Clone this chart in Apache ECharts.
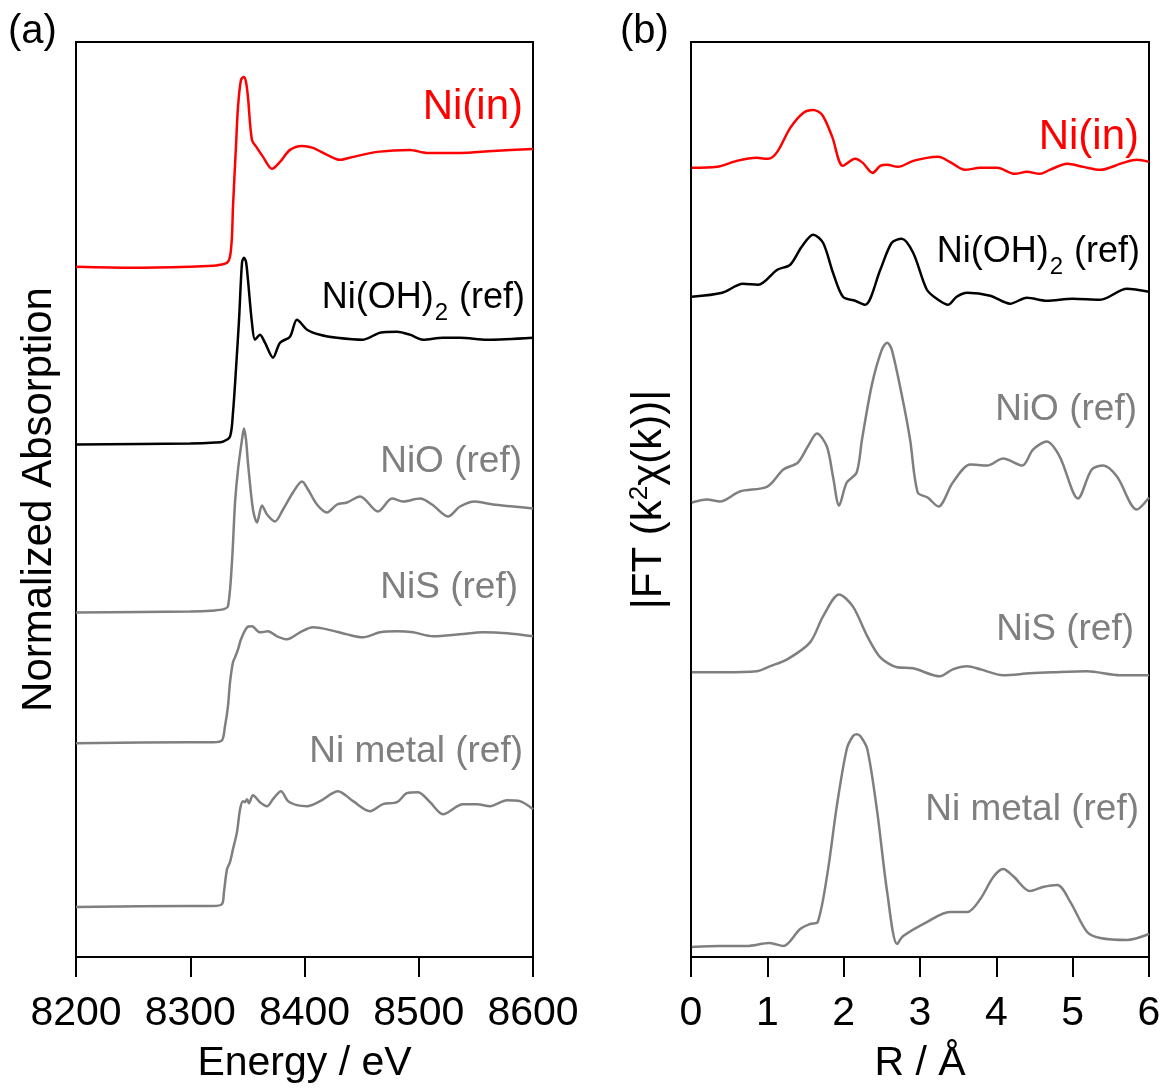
<!DOCTYPE html>
<html>
<head>
<meta charset="utf-8">
<script src="https://cdn.jsdelivr.net/npm/echarts@6/dist/echarts.min.js"></script>
<style>
html,body{margin:0;padding:0;background:#fff;}
#chart{width:1166px;height:1089px;}
</style>
</head>
<body>
<div id="chart"></div>
<script>
// ---- Panel (a): XANES, [Energy (eV), normalized absorption + offset] ----
const xanesNiIn = [[8200,6.91],[8250,6.90],[8300,6.91],[8320,6.92],[8326,6.93],[8332.2,6.95],[8334.8,7.01],[8336.5,7.21],[8337.4,7.51],[8340,8.11],[8341.8,8.51],[8344.4,8.78],[8347,8.81],[8348.8,8.76],[8350.5,8.61],[8354,8.18],[8358.4,8.10],[8363.7,8.01],[8371.6,7.89],[8378.6,7.96],[8387.3,8.08],[8397.8,8.12],[8407.4,8.10],[8419.7,8.03],[8431,7.98],[8442.5,8.01],[8463.5,8.06],[8492.3,8.08],[8507,8.05],[8536,8.05],[8565,8.07],[8600,8.09]];
const xanesNiOH2 = [[8200,5.13],[8300,5.14],[8322,5.15],[8328.7,5.16],[8334.8,5.21],[8337.4,5.45],[8340,5.88],[8342.7,6.38],[8345.3,6.95],[8347,7.00],[8348.8,6.96],[8350.5,6.78],[8354,6.35],[8356.7,6.18],[8361,6.23],[8365.4,6.15],[8372.4,6.00],[8378.6,6.15],[8387.3,6.21],[8393.4,6.38],[8402.2,6.28],[8413.6,6.23],[8428.5,6.20],[8451.2,6.18],[8466.1,6.25],[8481,6.26],[8492.3,6.23],[8503.7,6.18],[8521.2,6.20],[8536.1,6.20],[8559.7,6.18],[8600,6.20]];
const xanesNiO = [[8200,3.45],[8300,3.46],[8322,3.47],[8328.7,3.48],[8333,3.51],[8336.5,3.95],[8339.2,4.55],[8341.8,4.88],[8345.3,5.18],[8347,5.29],[8348.8,5.18],[8350.5,4.95],[8354.9,4.48],[8358.4,4.35],[8362.8,4.52],[8367.2,4.43],[8374.2,4.36],[8381.2,4.48],[8389.9,4.65],[8397.8,4.76],[8403.1,4.68],[8410.9,4.53],[8419.7,4.45],[8428.5,4.53],[8437.2,4.55],[8448.6,4.61],[8464.3,4.46],[8476.6,4.59],[8486.2,4.56],[8501.1,4.59],[8511.6,4.53],[8525.6,4.41],[8536.1,4.51],[8549.2,4.56],[8565,4.53],[8582.5,4.51],[8600,4.49]];
const xanesNiS = [[8200,2.14],[8300,2.15],[8320,2.15],[8327.8,2.17],[8330.4,2.31],[8333,2.51],[8334.8,2.75],[8337.4,2.95],[8339.2,3.00],[8341.8,3.08],[8344.4,3.18],[8349.7,3.30],[8354,3.31],[8361,3.25],[8368,3.26],[8375.9,3.21],[8384.7,3.18],[8396.1,3.25],[8407.4,3.30],[8419.7,3.28],[8437.2,3.23],[8451.2,3.20],[8466.1,3.25],[8481,3.26],[8495,3.25],[8512.5,3.21],[8536.1,3.23],[8556.2,3.25],[8577.3,3.24],[8600,3.21]];
const xanesNiMetal = [[8200,0.50],[8300,0.51],[8320,0.51],[8327.8,0.53],[8329.5,0.65],[8332.2,0.88],[8334.8,0.95],[8337.4,1.08],[8340.9,1.25],[8343.6,1.48],[8346.2,1.56],[8347.9,1.55],[8349.7,1.58],[8351.4,1.54],[8354.9,1.62],[8361,1.55],[8367.2,1.51],[8372.4,1.58],[8379.4,1.66],[8385.6,1.56],[8393.4,1.52],[8402.2,1.51],[8413.6,1.56],[8429.3,1.66],[8442.5,1.56],[8457.3,1.46],[8468.7,1.53],[8481,1.55],[8489.7,1.64],[8499.4,1.65],[8509.9,1.55],[8521.2,1.43],[8538.7,1.53],[8551,1.53],[8562.4,1.51],[8577.3,1.57],[8588.6,1.56],[8600,1.48]];

// ---- Panel (b): FT-EXAFS, [R (Å), |FT| + offset] ----
const ftNiIn = [[0.01,7.90],[0.34,7.91],[0.60,7.97],[0.86,8.00],[1.01,7.99],[1.13,8.06],[1.30,8.30],[1.47,8.45],[1.60,8.48],[1.72,8.43],[1.85,8.21],[1.99,7.92],[2.15,7.99],[2.25,7.95],[2.38,7.85],[2.48,7.92],[2.57,7.93],[2.71,7.91],[2.91,7.97],[3.09,8.00],[3.24,8.01],[3.39,7.96],[3.59,7.88],[3.79,7.90],[4.01,7.90],[4.24,7.84],[4.40,7.86],[4.57,7.84],[4.70,7.88],[4.93,7.94],[5.14,7.91],[5.36,7.88],[5.66,7.95],[5.84,7.98],[6.0,7.96]];
const ftNiOH2 = [[0.01,6.61],[0.41,6.65],[0.68,6.74],[0.88,6.73],[1.13,6.88],[1.30,6.93],[1.45,7.11],[1.60,7.23],[1.73,7.15],[1.86,6.85],[1.99,6.61],[2.15,6.57],[2.28,6.53],[2.48,6.88],[2.63,7.15],[2.76,7.19],[2.91,7.05],[3.09,6.68],[3.22,6.59],[3.37,6.53],[3.48,6.61],[3.62,6.65],[3.92,6.62],[4.18,6.54],[4.40,6.60],[4.66,6.57],[5.00,6.59],[5.36,6.58],[5.71,6.69],[6.0,6.66]];
const ftNiO = [[0.01,4.55],[0.21,4.58],[0.38,4.56],[0.64,4.66],[1.00,4.71],[1.21,4.88],[1.40,4.95],[1.53,5.11],[1.65,5.24],[1.78,5.11],[1.86,4.81],[1.94,4.52],[2.04,4.75],[2.17,4.85],[2.24,5.18],[2.37,5.73],[2.50,6.08],[2.57,6.15],[2.63,6.08],[2.76,5.63],[2.87,5.18],[2.97,4.65],[3.10,4.60],[3.24,4.51],[3.43,4.75],[3.66,4.93],[3.88,4.92],[4.09,4.99],[4.34,4.92],[4.48,5.08],[4.66,5.16],[4.83,5.01],[5.07,4.59],[5.25,4.88],[5.40,4.92],[5.58,4.81],[5.84,4.48],[6.0,4.60]];
const ftNiS = [[0.01,2.85],[0.42,2.85],[0.86,2.86],[1.03,2.91],[1.26,2.98],[1.56,3.15],[1.73,3.41],[1.94,3.63],[2.12,3.51],[2.31,3.21],[2.48,3.00],[2.70,2.90],[2.91,2.89],[3.26,2.81],[3.43,2.88],[3.62,2.91],[3.79,2.88],[4.09,2.82],[4.44,2.84],[4.74,2.85],[5.19,2.86],[5.62,2.82],[6.0,2.82]];
const ftNiMetal = [[0.01,0.10],[0.38,0.11],[0.73,0.11],[1.03,0.14],[1.21,0.11],[1.43,0.28],[1.56,0.33],[1.66,0.35],[1.79,0.85],[1.91,1.51],[2.04,2.08],[2.12,2.21],[2.17,2.23],[2.22,2.21],[2.31,2.08],[2.44,1.45],[2.57,0.65],[2.70,0.13],[2.78,0.21],[3.09,0.35],[3.39,0.45],[3.62,0.45],[3.79,0.58],[3.96,0.80],[4.09,0.88],[4.22,0.81],[4.44,0.66],[4.61,0.70],[4.80,0.72],[4.97,0.55],[5.19,0.25],[5.36,0.19],[5.71,0.17],[6.0,0.23]];

const energyTicks = [8200, 8300, 8400, 8500, 8600];
const rTicks = [0, 1, 2, 3, 4, 5, 6];

const RED = '#ff0000', BLACK = '#000000', GRAY = '#7f7f7f';
const FONT = '"Liberation Sans", Arial, sans-serif';

const chart = echarts.init(document.getElementById('chart'), null, {renderer: 'canvas'});

function xAxisCfg(gridIndex, min, max, interval, name) {
  return {
    type: 'value', gridIndex, min, max, interval, name,
    nameLocation: 'middle', nameGap: 86,
    nameTextStyle: {fontFamily: FONT, fontSize: 41, color: '#000'},
    axisLine: {show: true, onZero: false, lineStyle: {color: '#000', width: 2}},
    axisTick: {show: true, inside: false, length: 20, lineStyle: {color: '#000', width: 2}},
    axisLabel: {show: true, margin: 36, fontFamily: FONT, fontSize: 41, color: '#000',
      formatter: v => String(v)},
    splitLine: {show: false}
  };
}
function yAxisCfg(gridIndex, name, gap, rich) {
  return {
    type: 'value', gridIndex, min: 0, max: 9.16, name,
    nameLocation: 'middle', nameGap: gap, nameRotate: 90,
    nameTextStyle: {fontFamily: FONT, fontSize: 42, color: '#000', rich: rich},
    axisLine: {show: true, lineStyle: {color: '#000', width: 2}},
    axisTick: {show: false}, axisLabel: {show: false}, splitLine: {show: false}
  };
}
function line(data, color, xi, yi) {
  return {type: 'line', data, xAxisIndex: xi, yAxisIndex: yi, showSymbol: false, symbol: 'none',
    smooth: 0.3, lineStyle: {color, width: 2.5}, animation: false};
}
function lbl(x, y, text, color, size, rich) {
  const st = {text, x, y, fill: color, font: size + 'px ' + FONT, fontFamily: FONT, fontSize: size, align: 'right', verticalAlign: 'middle'};
  if (rich) st.rich = rich;
  return {type: 'text', x: 0, y: 0, style: st, z: 100};
}
const subRich = {
  a: {fontFamily: FONT, fontSize: 36, color: BLACK},
  s: {fontFamily: FONT, fontSize: 24, color: BLACK, verticalAlign: 'bottom', padding: [30, 1, 0, 1]}
};

chart.setOption({
  backgroundColor: '#fff',
  animation: false,
  grid: [
    {left: 76, top: 42, width: 457, height: 916, show: true, borderColor: '#000', borderWidth: 2, backgroundColor: 'transparent'},
    {left: 691, top: 42, width: 458, height: 916, show: true, borderColor: '#000', borderWidth: 2, backgroundColor: 'transparent'}
  ],
  xAxis: [
    xAxisCfg(0, energyTicks[0], energyTicks[energyTicks.length - 1], 100, 'Energy / eV'),
    xAxisCfg(1, rTicks[0], rTicks[rTicks.length - 1], 1, 'R / Å')
  ],
  yAxis: [
    yAxisCfg(0, 'Normalized Absorption', 16, null),
    yAxisCfg(1, '{a||FT (k}{sup|2}{a|χ(k))|}', 20, {
      a: {fontFamily: FONT, fontSize: 42, color: '#000'},
      sup: {fontFamily: FONT, fontSize: 26, color: '#000', verticalAlign: 'top', padding: [0, 0, 18, 0]}
    })
  ],
  series: [
    line(xanesNiMetal, GRAY, 0, 0),
    line(xanesNiS, GRAY, 0, 0),
    line(xanesNiO, GRAY, 0, 0),
    line(xanesNiOH2, BLACK, 0, 0),
    line(xanesNiIn, RED, 0, 0),
    line(ftNiMetal, GRAY, 1, 1),
    line(ftNiS, GRAY, 1, 1),
    line(ftNiO, GRAY, 1, 1),
    line(ftNiOH2, BLACK, 1, 1),
    line(ftNiIn, RED, 1, 1)
  ],
  graphic: [
    {type: 'text', x: 8, y: 32, style: {text: '(a)', font: '40px ' + FONT, fill: '#000', verticalAlign: 'middle'}},
    {type: 'text', x: 620, y: 32, style: {text: '(b)', font: '40px ' + FONT, fill: '#000', verticalAlign: 'middle'}},
    lbl(523, 107, 'Ni(in)', RED, 42),
    lbl(525, 298, '{a|Ni(OH)}{s|2}{a| (ref)}', BLACK, 36, subRich),
    lbl(522, 462, 'NiO (ref)', GRAY, 37),
    lbl(518, 588, 'NiS (ref)', GRAY, 37),
    lbl(523, 752, 'Ni metal (ref)', GRAY, 37),
    lbl(1139, 137, 'Ni(in)', RED, 42),
    lbl(1140, 252, '{a|Ni(OH)}{s|2}{a| (ref)}', BLACK, 36, subRich),
    lbl(1137, 410, 'NiO (ref)', GRAY, 37),
    lbl(1134, 630, 'NiS (ref)', GRAY, 37),
    lbl(1139, 810, 'Ni metal (ref)', GRAY, 37)
  ]
});
</script>
</body>
</html>
